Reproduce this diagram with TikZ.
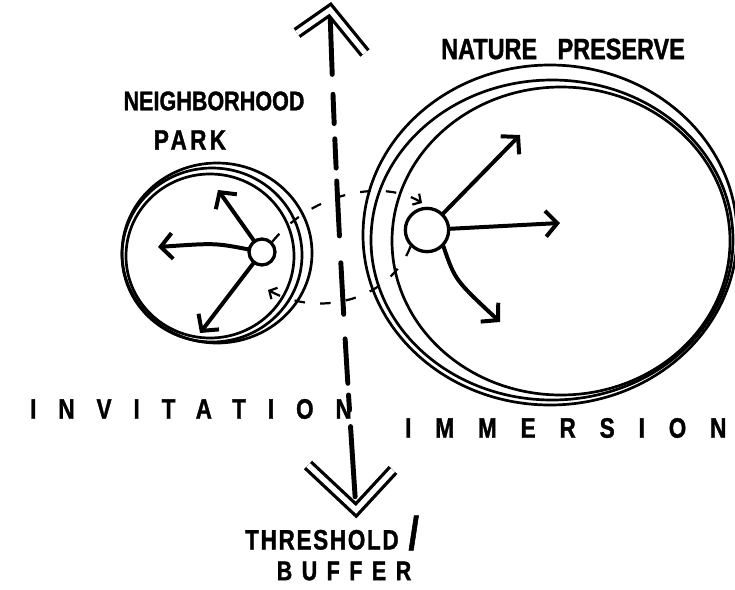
\documentclass[tikz,border=0pt]{standalone}
\usepackage{fontspec}
\newfontfamily\sketchfont[FakeStretch=0.8, FakeBold=1.2]{Liberation Sans Bold}
\usepackage{tikz}
\usetikzlibrary{arrows.meta,positioning,calc}

\begin{document}
\begin{tikzpicture}[
    x=0.03cm, y=-0.03cm,
    ring/.style={line width=2.3pt},
    hub/.style={circle, draw, line width=2.8pt, inner sep=0pt},
    ray/.style={line width=3.4pt, line cap=round, -{Straight Barb[length=10pt, width=22pt]}},
    flow/.style={line width=1.9pt, dash pattern=on 9pt off 13pt, -{Straight Barb[length=5pt, width=11pt]}},
    axis/.style={line width=4.2pt, line cap=round,
        dash pattern=on 55pt off 17pt on 25pt off 13pt on 25pt off 11pt on 47pt off 23pt on 44pt off 21pt on 38pt off 10pt on 13pt off 14pt on 60pt},
    chevron/.style={double=white, double distance=4.5pt, line width=2.8pt},
    label/.style={font=\sketchfont\fontsize{23}{25}\selectfont, inner sep=0pt},
    spaced/.style={inner sep=0pt, anchor=west}
]
    \useasboundingbox (0,0) rectangle (735,589);
    \fill[white] (0,0) rectangle (735,589);

    % Threshold axis
    \coordinate (axtop) at (330,10);
    \coordinate (axbot) at (356,510);
    \draw[axis] (axtop) .. controls (336,200) and (346,360) .. (axbot);
    \draw[chevron] ($(axtop)+(-33,23)$) -- (axtop) -- ($(axtop)+(35,43)$);
    \draw[chevron] ($(axbot)+(-48,-45)$) -- (axbot) -- ($(axbot)+(37,-40)$);

    % Neighborhood park
    \draw[ring] (217,253) ellipse [x radius=95, y radius=90];
    \draw[ring] (212,255) ellipse [x radius=90, y radius=87];
    \draw[ring] (210,256) ellipse [x radius=84, y radius=82];
    \node[hub, minimum size=0.78cm] (hubL) at (262,252) {};
    \coordinate (tipL1) at (218,190);
    \coordinate (tipL2) at (158,247);
    \coordinate (tipL3) at (200,333);
    \draw[ray] (hubL) -- (tipL1);
    \draw[ray] (hubL) .. controls (215,243) .. (tipL2);
    \draw[ray] (hubL) -- (tipL3);

    % Nature preserve
    \draw[ring] (550,235) ellipse [x radius=187, y radius=170];
    \draw[ring] (552,240) ellipse [x radius=181, y radius=160];
    \draw[ring] (561,241) ellipse [x radius=169, y radius=154];
    \node[hub, minimum size=1.3cm] (hubR) at (427,230) {};
    \coordinate (tipR1) at (520,135);
    \coordinate (tipR2) at (560,223);
    \coordinate (tipR3) at (500,322);
    \draw[ray] (hubR) -- (tipR1);
    \draw[ray] (hubR) -- (tipR2);
    \draw[ray] (hubR.south east) .. controls (455,280) .. (tipR3);

    % Flows across the buffer
    \coordinate (flowinR) at (422,203);
    \coordinate (flowinL) at (268,290);
    \draw[flow] (hubL.north east) .. controls (315,190) and (385,180) .. (flowinR);
    \draw[flow] (hubR.south west) .. controls (390,300) and (320,318) .. (flowinL);

    % Labels
    \node[label] (nbhd) at (214,101) {NEIGHBORHOOD};
    \node[label, font=\sketchfont\fontsize{24}{26}\addfontfeature{LetterSpace=12}\selectfont] (park) at (190,140) {PARK};
    \node[label, font=\sketchfont\fontsize{25}{27}\selectfont] (nature) at (563,49) {NATURE\hspace{0.7em}PRESERVE};
    \node[spaced, font=\sketchfont\fontsize{24}{26}\addfontfeature{LetterSpace=78}\selectfont] (invite) at (30,409) {INVITATION};
    \node[spaced, font=\sketchfont\fontsize{24}{26}\addfontfeature{LetterSpace=85}\selectfont] (immerse) at (405,428) {IMMERSION};
    \node[label, anchor=west, font=\sketchfont\fontsize{24}{26}\addfontfeature{LetterSpace=6}\selectfont] (thresh) at (245,533) {THRESHOLD\hspace{0.35em}{\fontsize{40}{40}\selectfont/}};
    \node[label, font=\sketchfont\fontsize{23}{25}\addfontfeature{LetterSpace=35}\selectfont] (buffer) at (344,571) {BUFFER};
\end{tikzpicture}
\end{document}
